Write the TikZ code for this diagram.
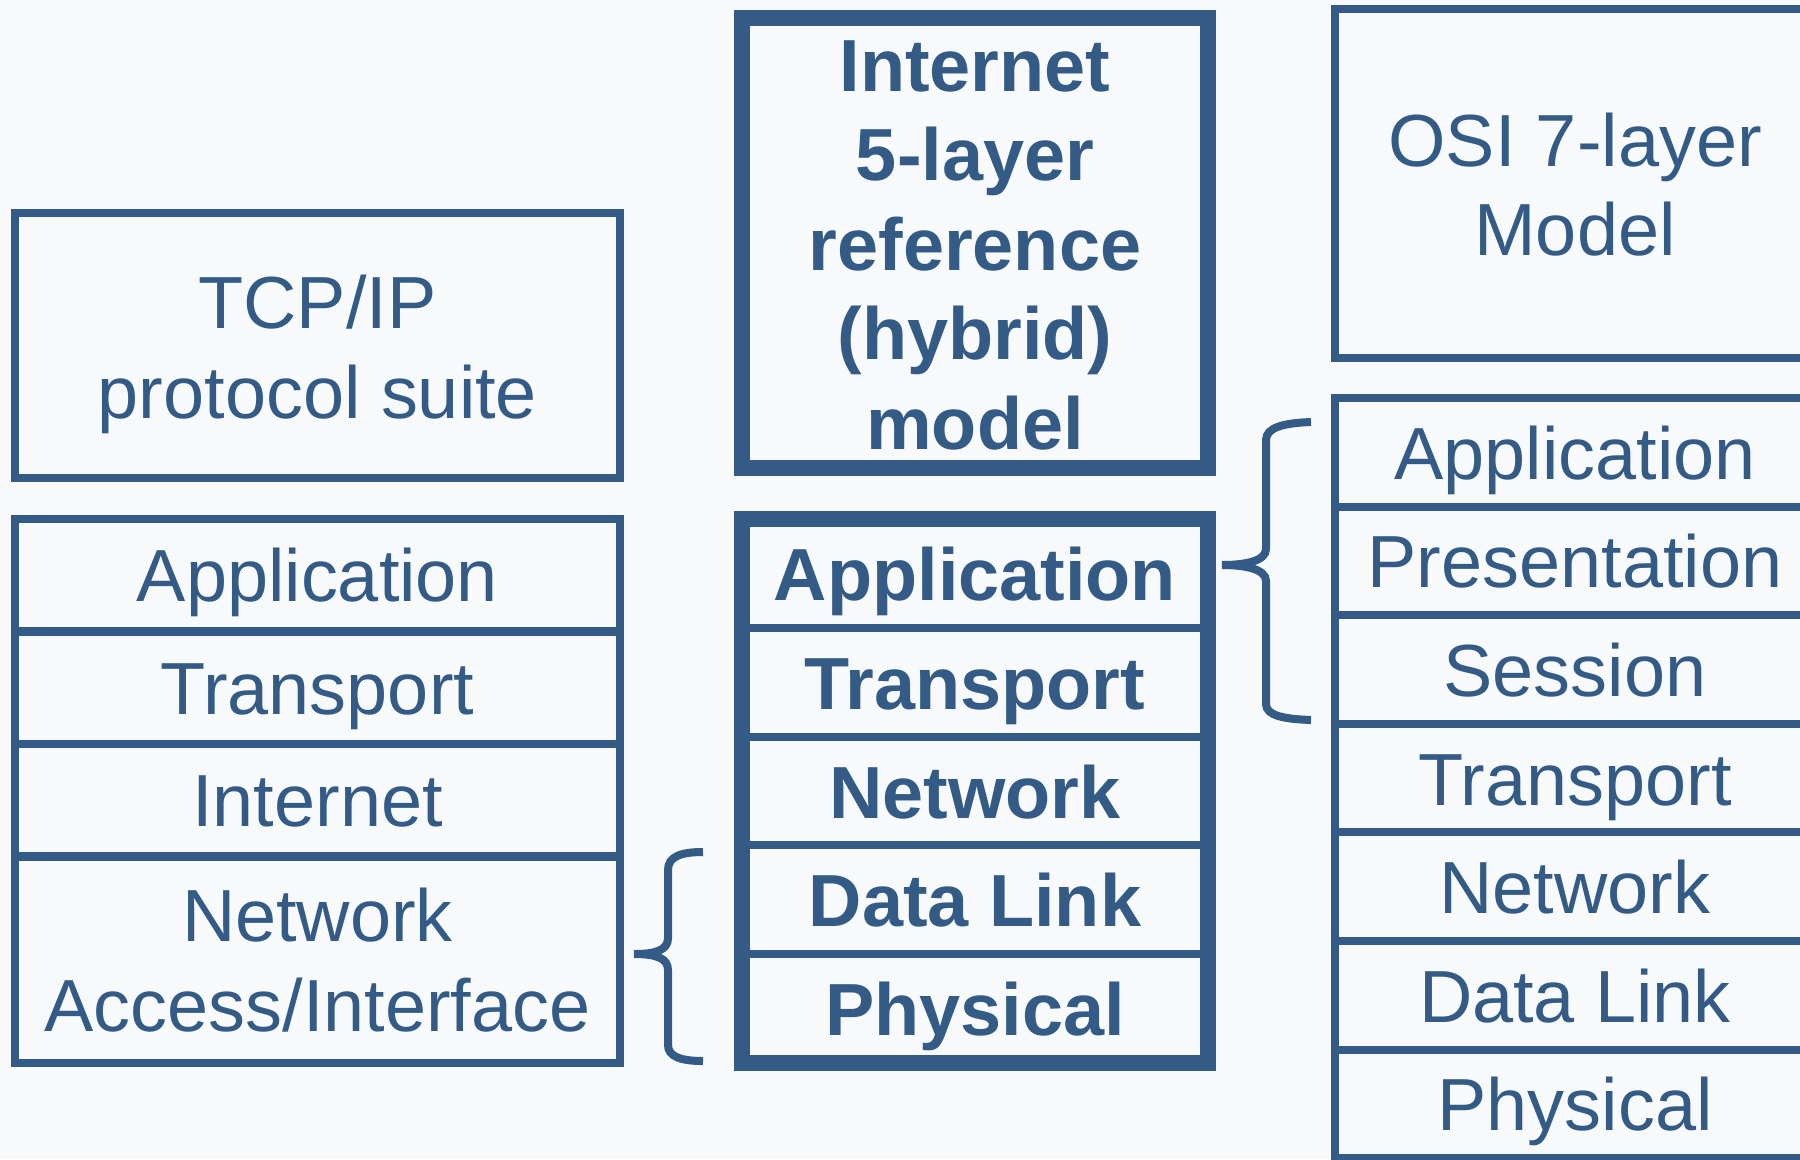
\documentclass[tikz,border=0pt]{standalone}
\usepackage{fontspec}
\setmainfont{Liberation Sans}
\definecolor{netblue}{HTML}{335B85}
\definecolor{bgc}{HTML}{F8F9FA}
\begin{document}
\begin{tikzpicture}[x=0.01cm, y=-0.01cm,
  thinbox/.style={draw=netblue, line width=2.28pt, rectangle, inner sep=0pt, outer sep=0pt},
  thickbox/.style={draw=netblue, line width=4.55pt, rectangle, inner sep=0pt, outer sep=0pt},
  lbl/.style={text=netblue, font=\fontsize{21}{25}\selectfont, anchor=base, inner sep=0pt},
  blbl/.style={text=netblue, font=\fontsize{21}{25}\selectfont\bfseries, anchor=base, inner sep=0pt},
  bracepath/.style={draw=netblue, line width=2.28pt}]
\fill[bgc] (0,0) rectangle (1800,1159);
\useasboundingbox (0,0) rectangle (1800,1159);
\clip (0,0) rectangle (1800,1159);

% ---------- TCP/IP column ----------
\node[thinbox, minimum width=6.05cm, minimum height=2.65cm] (tcph) at (317.5,345.5) {};
\node[lbl] (tcph1) at (317.5,328.5) {TCP/IP};
\node[lbl] (tcph2) at (317.5,418) {protocol suite};

\node[thinbox, minimum width=6.05cm, minimum height=1.125cm] (t1) at (317.5,575.25) {};
\node[thinbox, minimum width=6.05cm, minimum height=1.125cm] (t2) at (317.5,687.75) {};
\node[thinbox, minimum width=6.05cm, minimum height=1.125cm] (t3) at (317.5,800.25) {};
\node[thinbox, minimum width=6.05cm, minimum height=2.065cm] (t4) at (317.5,959.75) {};
\node[lbl] (t1t) at (317.5,601.5) {Application};
\node[lbl] (t2t) at (317.5,714) {Transport};
\node[lbl] (t3t) at (317.5,826.5) {Internet};
\node[lbl] (t4t) at (317.5,941) {Network};
\node[lbl] (t4u) at (317.5,1031) {Access/Interface};

% ---------- Internet 5-layer column ----------
\node[thickbox, minimum width=4.66cm, minimum height=4.50cm] (mh) at (975,243) {};
\node[blbl] (mh1) at (975,91) {Internet};
\node[blbl] (mh2) at (975,180.5) {5-layer};
\node[blbl] (mh3) at (975,270) {reference};
\node[blbl] (mh4) at (975,359.5) {(hybrid)};
\node[blbl] (mh5) at (975,449) {model};

\node[thinbox, minimum width=4.66cm, minimum height=1.088cm] (m1) at (975,573.4) {};
\node[thinbox, minimum width=4.66cm, minimum height=1.088cm] (m2) at (975,682.2) {};
\node[thinbox, minimum width=4.66cm, minimum height=1.088cm] (m3) at (975,791) {};
\node[thinbox, minimum width=4.66cm, minimum height=1.088cm] (m4) at (975,899.8) {};
\node[thinbox, minimum width=4.66cm, minimum height=1.088cm] (m5) at (975,1008.6) {};
\node[thickbox, minimum width=4.66cm, minimum height=5.44cm] (mstack) at (975,791) {};
\node[blbl] (m1t) at (975,600.4) {Application};
\node[blbl] (m2t) at (975,709.2) {Transport};
\node[blbl] (m3t) at (975,818) {Network};
\node[blbl] (m4t) at (975,926.8) {Data Link};
\node[blbl] (m5t) at (975,1035.6) {Physical};

% ---------- OSI column ----------
\node[thinbox, minimum width=4.79cm, minimum height=3.49cm] (oh) at (1575,183.5) {};
\node[lbl] (oh1) at (1575,166.7) {OSI 7-layer};
\node[lbl] (oh2) at (1575,255) {Model};

\foreach \i/\yc/\txt in {1/452.3/Application, 2/560.9/Presentation, 3/669.5/Session,
                         4/778.1/Transport, 5/886.7/Network, 6/995.3/Data Link, 7/1103.9/Physical}{
  \node[thinbox, minimum width=4.79cm, minimum height=1.086cm] (o\i) at (1575,\yc) {};
  \node[lbl] (o\i t) at (1575,\yc+27) {\txt};
}

% ---------- braces ----------
\coordinate (lbTop) at (703,852);
\coordinate (lbTip) at (634,954);
\coordinate (lbBot) at (703,1061);
\draw[bracepath] (lbTop) .. controls (682,852) and (668,856) .. (668,870)
  -- (668,938) .. controls (668,950) and (656,954) .. (lbTip)
  .. controls (656,954) and (668,958) .. (668,970)
  -- (668,1045) .. controls (668,1057) and (682,1061) .. (lbBot);

\coordinate (rbTop) at (1311,422);
\coordinate (rbTip) at (1222,565);
\coordinate (rbBot) at (1311,720);
\draw[bracepath] (rbTop) .. controls (1285,423) and (1266,427) .. (1266,440)
  -- (1266,549) .. controls (1266,561) and (1245,565) .. (rbTip)
  .. controls (1245,565) and (1266,569) .. (1266,581)
  -- (1266,704) .. controls (1266,716) and (1285,719) .. (rbBot);
\end{tikzpicture}
\end{document}
